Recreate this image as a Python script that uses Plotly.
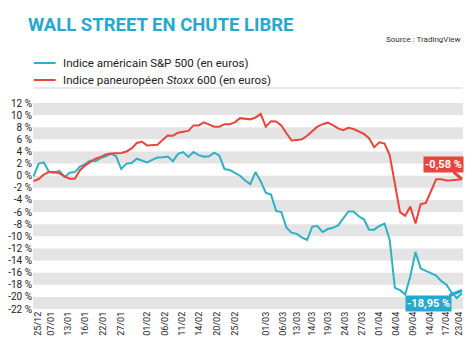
import plotly.graph_objects as go

# ---- data (trading-day index -> performance in %) ----
sp500 = [-0.1, 2.0, 2.2, 0.6, 0.5, 0.8, -0.2, 0.5, 0.6, 1.5,
         1.9, 2.5, 2.4, 2.9, 3.2, 3.6, 3.2, 1.1, 2.0, 2.1,
         2.8, 2.5, 2.2, 2.6, 3.0, 3.05, 3.15, 2.4, 3.6, 3.9,
         3.1, 3.9, 3.4, 3.15, 3.2, 3.8, 3.3, 1.1, 0.95, 0.45,
         0.0, -0.8, -1.4, 0.6, -0.9, -2.8, -3.1, -5.8, -6.0, -8.6,
         -9.4, -9.6, -10.2, -10.6, -8.4, -8.3, -9.3, -8.8, -8.6, -8.2,
         -7.0, -5.9, -5.9, -6.7, -7.2, -8.9, -8.9, -8.3, -7.9, -10.6,
         -18.5, -18.9, -19.6, -16.6, -12.6, -15.3, -15.7, -16.1, -16.5, -17.4,
         -18.0, -19.3, -20.2, -19.4]

stoxx600 = [-0.9, -0.55, 0.2, 0.6, 0.6, 0.4, -0.1, -0.5, -0.5, 0.9,
            1.7, 2.2, 2.8, 3.1, 3.5, 3.65, 3.7, 3.75, 4.0, 4.5,
            5.4, 5.6, 5.0, 5.0, 5.1, 5.9, 6.65, 6.6, 7.1, 7.25,
            7.4, 8.3, 8.3, 8.8, 8.5, 8.1, 8.1, 8.5, 8.5, 8.8,
            9.5, 9.4, 9.3, 9.6, 10.2, 8.1, 9.0, 8.95, 8.3, 7.0,
            5.8, 5.9, 6.0, 6.6, 7.4, 8.1, 8.5, 8.75, 8.35, 7.8,
            7.5, 7.9, 7.7, 7.3, 6.9, 6.2, 4.7, 5.5, 5.3, 3.4,
            -1.0, -6.0, -6.6, -5.1, -7.9, -4.7, -4.5, -2.5, -0.6, -0.6,
            -0.8, -0.75, -0.7, -0.58]

day_index = list(range(len(sp500)))

tick_pos = [0.86, 3.33, 6.75, 9.98, 13.4, 17.0, 22.0, 25.4, 28.8, 32.0,
            35.6, 39.1, 44.96, 48.4, 51.0, 53.9, 57.1, 60.3, 63.6, 67.0,
            70.2, 73.5, 76.9, 79.9, 82.4]
tick_dates = ["25/12", "07/01", "13/01", "16/01", "22/01", "27/01", "01/02",
              "06/02", "11/02", "14/02", "20/02", "25/02", "01/03", "06/03",
              "13/03", "14/03", "19/03", "24/03", "27/03", "01/04", "04/04",
              "09/04", "14/04", "17/04", "23/04"]

y_vals = [12, 10, 8, 6, 4, 2, 0, -2, -4, -6, -8, -10, -12, -14, -16, -18, -20, -22]
y_text = ["12 %", "10 %", "8 %", "6 %", "4 %", "2 %", "0 %", "-2 %", "-4 %",
          "-6 %", "-8 %", "-10 %", "-12 %", "-14 %", "-16 %", "-18 %", "-20 %", "-22 %"]

band_tops = [12, 8, 4, 0, -4, -8, -12, -16, -20]

last_sp_label = "-18,95 %"
last_stoxx_label = "-0,58 %"

BLUE = "#2eb1c4"
BLUE_DARK = "#27a8cf"
RED = "#e8453c"
FONT = "Roboto, Liberation Sans, sans-serif"

fig = go.Figure()
fig.add_trace(go.Scatter(x=day_index, y=sp500, mode="lines",
                         line=dict(color=BLUE, width=2), showlegend=False))
fig.add_trace(go.Scatter(x=day_index, y=stoxx600, mode="lines",
                         line=dict(color=RED, width=2), showlegend=False))

shapes = []
for top in band_tops:
    shapes.append(dict(type="rect", xref="paper", yref="y", x0=0, x1=1,
                       y0=top - 2, y1=top, fillcolor="#e4e4e4",
                       line=dict(width=0), layer="below"))

W_L, W_R = 27, 464
T, B = 103, 309
def px(x):
    return (x - W_L) / (W_R - W_L)
def py(y):
    return (B - y) / (B - T)

# legend swatches and separator
shapes.append(dict(type="line", xref="paper", yref="paper", x0=px(28), x1=px(50),
                   y0=py(63), y1=py(63), line=dict(color=BLUE, width=2)))
shapes.append(dict(type="line", xref="paper", yref="paper", x0=px(28), x1=px(50),
                   y0=py(80), y1=py(80), line=dict(color=RED, width=2)))
shapes.append(dict(type="line", xref="paper", yref="paper", x0=px(28), x1=px(463),
                   y0=py(88), y1=py(88), line=dict(color="#d2d2d2", width=1)))

annotations = [
    dict(xref="paper", yref="paper", x=px(55), y=py(63), xanchor="left", yanchor="middle",
         text="Indice américain S&P 500 (en euros)", showarrow=False,
         font=dict(family=FONT, size=11.5, color="#222")),
    dict(xref="paper", yref="paper", x=px(55), y=py(80), xanchor="left", yanchor="middle",
         text="Indice paneuropéen <i>Stoxx</i> 600 (en euros)", showarrow=False,
         font=dict(family=FONT, size=11.5, color="#222")),
    dict(xref="paper", yref="paper", x=px(464), y=py(40), xanchor="right", yanchor="middle",
         text="Source : TradingView", showarrow=False,
         font=dict(family=FONT, size=8, color="#333")),
    dict(x=day_index[-1], y=stoxx600[-1], xref="x", yref="y",
         text="<b>" + last_stoxx_label + "</b>", showarrow=True, arrowhead=0,
         arrowwidth=3, arrowcolor=RED, ax=-18, ay=-15,
         bgcolor=RED, borderpad=1, font=dict(family=FONT, size=11, color="white")),
    dict(x=day_index[-1], y=-18.95, xref="x", yref="y",
         text="<b>" + last_sp_label + "</b>", showarrow=True, arrowhead=0,
         arrowwidth=3, arrowcolor=BLUE_DARK, ax=-33, ay=13,
         bgcolor=BLUE_DARK, borderpad=1, font=dict(family=FONT, size=11, color="white")),
]

fig.update_layout(
    width=472, height=353,
    margin=dict(l=W_L, r=472 - W_R, t=T, b=353 - B, pad=0),
    paper_bgcolor="white", plot_bgcolor="white",
    title=dict(text="<b>WALL STREET EN CHUTE LIBRE</b>", x=28 / 472, xanchor="left",
               y=1 - 25 / 353, yanchor="middle",
               font=dict(family=FONT, size=18.5, color=BLUE_DARK)),
    shapes=shapes, annotations=annotations,
    xaxis=dict(range=[-0.1, 83.2], showgrid=False, zeroline=False, showline=False,
               tickmode="array", tickvals=tick_pos, ticktext=tick_dates,
               tickangle=-90, ticks="", ticklen=0,
               tickfont=dict(family=FONT, size=9, color="#222")),
    yaxis=dict(range=[-22, 12], showgrid=False, zeroline=False, showline=False,
               tickmode="array", tickvals=y_vals, ticktext=y_text, ticks="",
               tickfont=dict(family=FONT, size=10, color="#222")),
)

fig.write_html("out.html")
